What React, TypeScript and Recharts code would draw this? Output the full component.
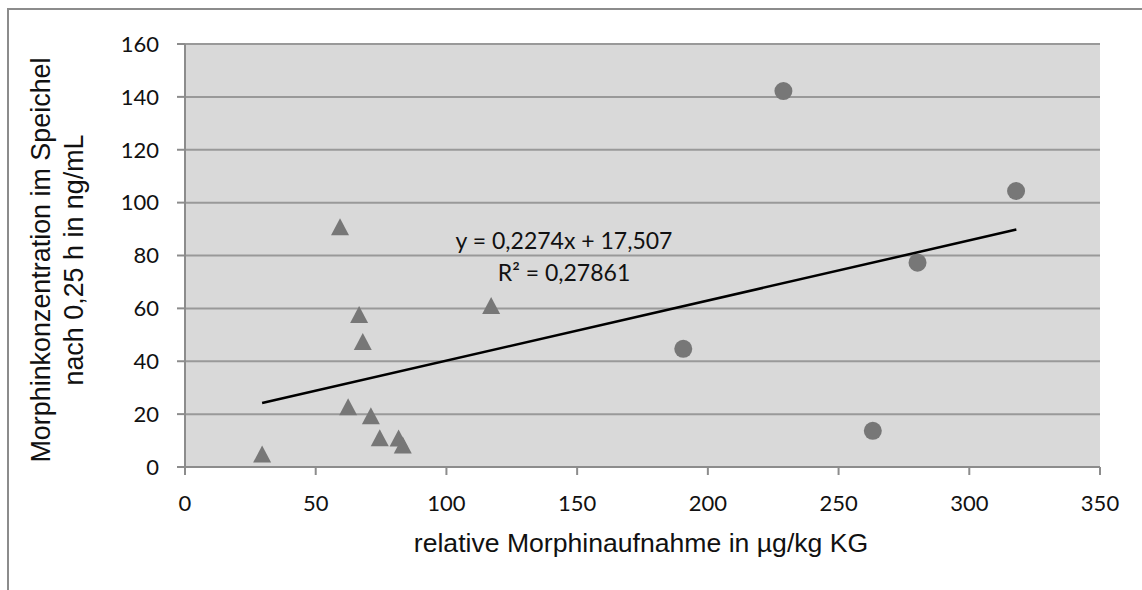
import { ScatterChart, Scatter, XAxis, YAxis, CartesianGrid } from "recharts";

// Gruppe 1 (Dreiecke)
const triangleX = [29.5, 59.3, 62.4, 66.6, 68.0, 71.1, 74.5, 81.7, 83.3, 117.1];
const triangleY = [4.9, 90.9, 22.8, 57.7, 47.5, 19.4, 11.1, 11.0, 8.3, 61.1];

// Gruppe 2 (Kreise)
const circleX = [190.6, 228.9, 263.1, 280.2, 317.9];
const circleY = [44.7, 142.2, 13.7, 77.3, 104.4];

// lineare Trendlinie (Endpunkte aus der Grafik)
const trendX = [29.5, 318.0];
const trendY = [24.2, 89.8];

const xTicks = [0, 50, 100, 150, 200, 250, 300, 350];
const yTicks = [0, 20, 40, 60, 80, 100, 120, 140, 160];

const equationText = "y = 0,2274x + 17,507";
const rSquaredText = "R² = 0,27861";
const xTitle = "relative Morphinaufnahme in µg/kg KG";
const yTitle1 = "Morphinkonzentration im Speichel";
const yTitle2 = "nach 0,25 h in ng/mL";

const triangles = triangleX.map((x, i) => ({ x, y: triangleY[i] }));
const circles = circleX.map((x, i) => ({ x, y: circleY[i] }));
const trend = trendX.map((x, i) => ({ x, y: trendY[i] }));

const MARKER = "#777777";
const AXIS = "#8c8c8c";
const tickStyle = { fontFamily: "Lato", fontSize: 22, fill: "#111" };

const Triangle = (props: any) => {
  const { cx, cy } = props;
  const w = 9;
  const h = 8.5;
  return (
    <polygon
      points={`${cx},${cy - h} ${cx + w},${cy + h} ${cx - w},${cy + h}`}
      fill={MARKER}
    />
  );
};

const Dot = (props: any) => <circle cx={props.cx} cy={props.cy} r={9} fill={MARKER} />;

export default function App() {
  return (
    <div
      style={{
        position: "absolute",
        left: 0,
        top: 0,
        width: 1142,
        height: 590,
        overflow: "hidden",
        background: "#fff",
      }}
    >
      <div
        style={{
          position: "absolute",
          left: 7,
          top: 8,
          width: 1300,
          height: 800,
          border: `2px solid ${AXIS}`,
        }}
      />
      <div style={{ position: "absolute", left: 0, top: 0 }}>
        <ScatterChart
          width={1142}
          height={590}
          margin={{ top: 44, right: 42, bottom: 63, left: 85 }}
        >
          <CartesianGrid
            vertical={false}
            fill="#d9d9d9"
            stroke="#999999"
            strokeWidth={2}
          />
          <XAxis
            type="number"
            dataKey="x"
            domain={[0, 350]}
            ticks={xTicks}
            height={60}
            tickSize={8}
            tickMargin={20}
            axisLine={{ stroke: AXIS, strokeWidth: 2 }}
            tickLine={{ stroke: AXIS, strokeWidth: 2 }}
            tick={tickStyle}
            interval={0}
          />
          <YAxis
            type="number"
            dataKey="y"
            domain={[0, 160]}
            ticks={yTicks}
            width={100}
            tickSize={8}
            tickMargin={18}
            axisLine={{ stroke: AXIS, strokeWidth: 2 }}
            tickLine={{ stroke: AXIS, strokeWidth: 2 }}
            tick={tickStyle}
            interval={0}
          />
          <Scatter data={triangles} shape={Triangle} isAnimationActive={false} />
          <Scatter data={circles} shape={Dot} isAnimationActive={false} />
          <Scatter
            data={trend}
            line={{ stroke: "#000", strokeWidth: 2.5 }}
            shape={() => <g />}
            isAnimationActive={false}
          />
        </ScatterChart>
      </div>
      <div
        style={{
          position: "absolute",
          left: 364,
          top: 224,
          width: 400,
          textAlign: "center",
          fontFamily: "Lato",
          fontSize: 23,
          lineHeight: "32px",
          color: "#111",
          whiteSpace: "nowrap",
        }}
      >
        <div>{equationText}</div>
        <div>{rSquaredText}</div>
      </div>
      <div
        style={{
          position: "absolute",
          left: 341,
          top: 527,
          width: 600,
          textAlign: "center",
          fontFamily: "Liberation Sans",
          fontSize: 26.6,
          lineHeight: "32px",
          color: "#111",
          whiteSpace: "nowrap",
        }}
      >
        {xTitle}
      </div>
      <div
        style={{
          position: "absolute",
          left: 58 - 250,
          top: 260 - 33,
          width: 500,
          height: 66,
          textAlign: "center",
          fontFamily: "Liberation Sans",
          fontSize: 26.9,
          lineHeight: "33px",
          color: "#111",
          whiteSpace: "nowrap",
          transform: "rotate(-90deg)",
        }}
      >
        <div>{yTitle1}</div>
        <div>{yTitle2}</div>
      </div>
    </div>
  );
}
